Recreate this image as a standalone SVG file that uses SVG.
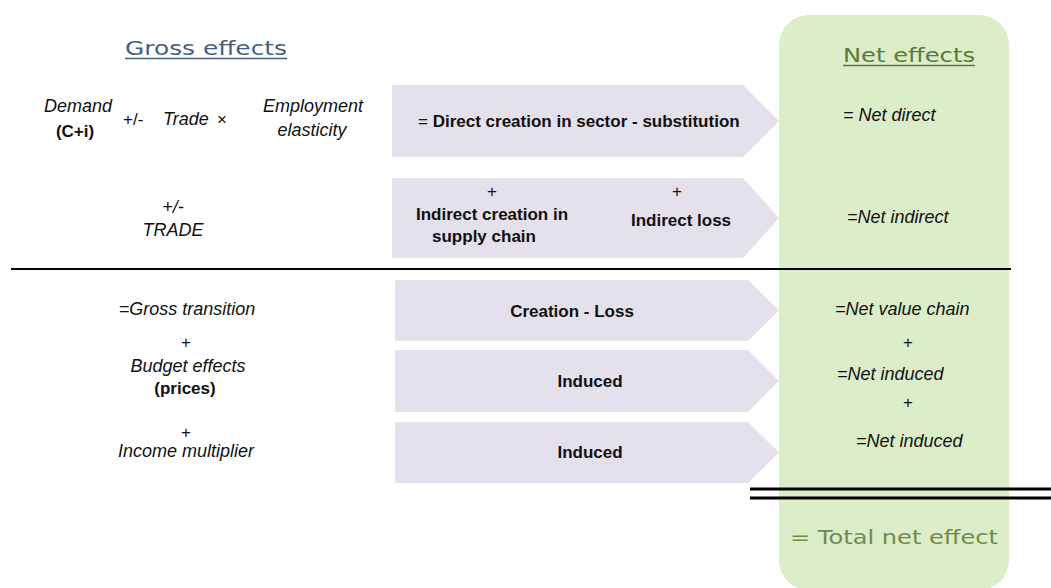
<svg xmlns="http://www.w3.org/2000/svg" width="1051" height="588" viewBox="0 0 1051 588">
<style>
.it{font-family:"Liberation Sans",Arial,sans-serif;font-style:italic;font-size:18px;fill:#111;}
.bd{font-family:"Liberation Sans",Arial,sans-serif;font-weight:bold;font-size:17px;fill:#111;}
.rg{font-family:"Liberation Sans",Arial,sans-serif;font-size:17px;fill:#111;}
.hd{font-family:"DejaVu Sans",Verdana,sans-serif;font-size:20px;}
.arrow{fill:#e4e0ec;}
.c{text-anchor:middle;}
</style>
<rect width="1051" height="588" fill="#ffffff"/>
<g id="arrows">
<polygon id="arrow-direct" class="arrow" points="392,85 743,85 779,121 743,157 392,157"/>
<polygon id="arrow-indirect" class="arrow" points="392,178 743,178 779,218 743,258 392,258"/>
<polygon id="arrow-creation" class="arrow" points="395,280 748,280 779,310.5 748,341 395,341"/>
<polygon id="arrow-induced1" class="arrow" points="395,350 748,350 779,381 748,412 395,412"/>
<polygon id="arrow-induced2" class="arrow" points="395,422 748,422 779,452.5 748,483 395,483"/>
</g>
<g id="net-panel">
<rect x="779" y="15" width="230" height="575" rx="30" ry="30" fill="#dcedc9"/>
</g>
<g id="gross-header">
<text class="hd c" x="206" y="55" fill="#44607f" textLength="162" lengthAdjust="spacingAndGlyphs">Gross effects</text>
<line x1="125" y1="58.5" x2="287" y2="58.5" stroke="#44607f" stroke-width="1.6"/>
</g>
<g id="net-header">
<text class="hd c" x="909" y="62" fill="#5b7a35" textLength="132" lengthAdjust="spacingAndGlyphs">Net effects</text>
<line x1="843" y1="65.5" x2="975" y2="65.5" stroke="#5b7a35" stroke-width="1.6"/>
</g>
<g id="demand-row">
<text class="it c" x="78" y="112">Demand</text>
<text class="bd c" x="75" y="137">(C+i)</text>
<text class="rg" x="123" y="125">+/-</text>
<text class="it" x="163" y="125">Trade</text>
<text class="rg" x="217" y="125">×</text>
<text class="it c" x="313" y="112">Employment</text>
<text class="it c" x="312" y="136">elasticity</text>
</g>
<g id="trade-row">
<text class="it c" x="173" y="213">+/-</text>
<text class="it c" x="173" y="236">TRADE</text>
</g>
<g id="direct-text">
<text class="bd" x="418" y="127"><tspan font-weight="normal">=</tspan> Direct creation  in sector -  substitution</text>
</g>
<g id="indirect-text">
<text class="rg c" x="492" y="197">+</text>
<text class="bd c" x="492" y="220">Indirect creation in</text>
<text class="bd c" x="484" y="242">supply chain</text>
<text class="rg c" x="677" y="197">+</text>
<text class="bd c" x="681" y="226">Indirect loss</text>
</g>
<g id="net-direct"><text class="it" x="843" y="121">=  Net direct</text></g>
<g id="net-indirect"><text class="it" x="847" y="223">=Net indirect</text></g>
<g id="rules">
<line x1="11" y1="269" x2="1011" y2="269" stroke="#000" stroke-width="2"/>
<line x1="750" y1="489" x2="1051" y2="489" stroke="#000" stroke-width="3"/>
<line x1="750" y1="498" x2="1051" y2="498" stroke="#000" stroke-width="3"/>
</g>
<g id="gross-transition">
<text class="it c" x="187" y="315">=Gross transition</text>
<text class="rg c" x="186" y="348">+</text>
</g>
<g id="budget-effects">
<text class="it c" x="188" y="372">Budget effects</text>
<text class="bd c" x="185" y="394">(prices)</text>
<text class="rg c" x="186" y="438">+</text>
</g>
<g id="income-multiplier">
<text class="it c" x="186" y="457">Income multiplier</text>
</g>
<g id="creation-loss-text"><text class="bd c" x="572" y="317">Creation - Loss</text></g>
<g id="induced1-text"><text class="bd c" x="590" y="387">Induced</text></g>
<g id="induced2-text"><text class="bd c" x="590" y="458">Induced</text></g>
<g id="net-value-chain">
<text class="it" x="835" y="315">=Net value chain</text>
<text class="rg c" x="908" y="348">+</text>
</g>
<g id="net-induced1">
<text class="it" x="837" y="380">=Net induced</text>
<text class="rg c" x="908" y="408">+</text>
</g>
<g id="net-induced2"><text class="it" x="856" y="447">=Net induced</text></g>
<g id="total">
<text class="hd" x="790" y="544" fill="#6f8c4a" textLength="208" lengthAdjust="spacingAndGlyphs">= Total net effect</text>
</g>
</svg>
